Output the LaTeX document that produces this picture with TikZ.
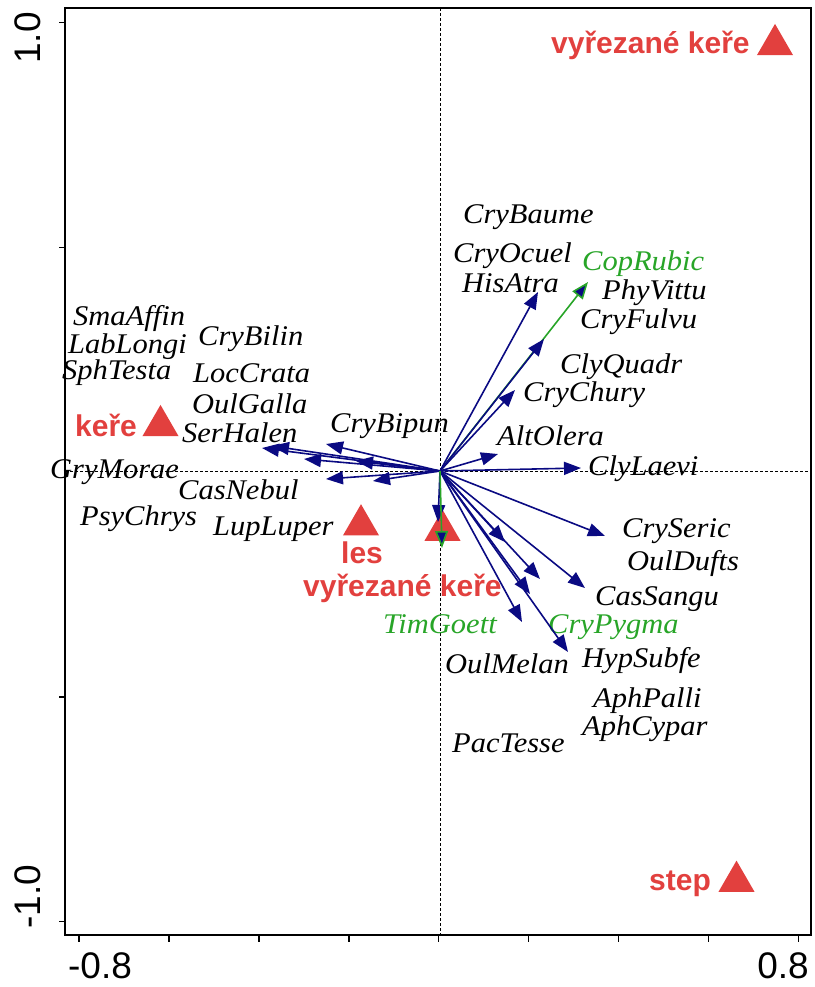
\documentclass[tikz,border=0pt]{standalone}
\usepackage{fontspec}
\setmainfont{Liberation Sans}
\newfontfamily\spfont{Liberation Serif Italic}[FakeStretch=1.07]
\newfontfamily\redfont{Liberation Sans Bold}
\usetikzlibrary{arrows.meta,shapes.geometric}
\definecolor{navyc}{RGB}{10,10,130}
\definecolor{greenc}{RGB}{40,165,40}
\definecolor{redc}{RGB}{226,64,62}
\begin{document}
\begin{tikzpicture}[x=1pt,y=-1pt,
  sp/.style={font=\spfont\fontsize{28.5}{28.5}\selectfont, inner sep=0pt, anchor=base west, text=black},
  gsp/.style={sp, text=greenc},
  rl/.style={font=\redfont\fontsize{30}{30}\selectfont, inner sep=0pt, anchor=base west, text=redc},
  tri/.style={regular polygon, regular polygon sides=3, fill=redc, inner sep=0pt, minimum size=41.6pt},
  vec/.style={navyc, line width=1.6pt, -{Triangle[length=17pt,width=13pt]}},
  gvec/.style={greenc, line width=1.6pt, -{Triangle[length=17pt,width=13pt,fill=navyc]}},
  axl/.style={font=\fontsize{37}{37}\selectfont, inner sep=0pt},
  dsh/.style={line width=0.8pt, dash pattern=on 3pt off 2pt}
]
\useasboundingbox (0,0) rectangle (814,987);
% dashed zero lines
\draw[dsh] (440,8) -- (440,935);
\draw[dsh] (65,471) -- (811,471);
% frame
\draw[line width=1.8pt] (65,8) rectangle (811,935);
\foreach \yy in {22.7,247.4,696.9,921.7} \draw[line width=1.5pt] (65,\yy) -- (59,\yy);
\foreach \k in {0,...,8} \draw[line width=1.5pt] (78.9+89.95*\k,935) -- (78.9+89.95*\k,942);
% axis labels
\node[axl, rotate=90] (ya) at (28,38) {1.0};
\node[axl, rotate=90] (yb) at (28,897) {-1.0};
\node[axl] (xa) at (100,966) {-0.8};
\node[axl] (xb) at (783,966) {0.8};
% triangles
\node[tri] (t1) at (775,44.7) {};
\node[tri] (t2) at (160.5,425.7) {};
\node[tri] (t3) at (361,525) {};
\node[tri] (t4) at (442.5,530.4) {};
\node[tri] (t5) at (736.5,881.4) {};
% red labels
\node[rl] (r1) at (551,54) {vyřezané keře};
\node[rl] (r2) at (75,436) {keře};
\node[rl] (r3) at (341,563) {les};
\node[rl] (r4) at (303,596) {vyřezané keře};
\node[rl] (r5) at (649,890) {step};
% species labels
\node[sp] (CryBaume) at (463,223) {CryBaume};
\node[sp] (CryOcuel) at (453,262) {CryOcuel};
\node[gsp] (CopRubic) at (582,270) {CopRubic};
\node[sp] (HisAtra) at (462,292) {HisAtra};
\node[sp] (PhyVittu) at (602,299) {PhyVittu};
\node[sp] (CryFulvu) at (580,328) {CryFulvu};
\node[sp] (ClyQuadr) at (560,373) {ClyQuadr};
\node[sp] (CryChury) at (523,401) {CryChury};
\node[sp] (AltOlera) at (497,445) {AltOlera};
\node[sp] (ClyLaevi) at (588,475) {ClyLaevi};
\node[sp] (CrySeric) at (622,537) {CrySeric};
\node[sp] (OulDufts) at (627,570) {OulDufts};
\node[sp] (CasSangu) at (595,605) {CasSangu};
\node[gsp] (CryPygma) at (548,633) {CryPygma};
\node[gsp] (TimGoett) at (383,633) {TimGoett};
\node[sp] (HypSubfe) at (582,667) {HypSubfe};
\node[sp] (OulMelan) at (445,673) {OulMelan};
\node[sp] (AphPalli) at (593,707) {AphPalli};
\node[sp] (AphCypar) at (582,735) {AphCypar};
\node[sp] (PacTesse) at (452,752) {PacTesse};
\node[sp] (SmaAffin) at (73,325) {SmaAffin};
\node[sp] (LabLongi) at (68,353) {LabLongi};
\node[sp] (SphTesta) at (62,379) {SphTesta};
\node[sp] (CryBilin) at (198,345) {CryBilin};
\node[sp] (LocCrata) at (193,382) {LocCrata};
\node[sp] (OulGalla) at (192,413) {OulGalla};
\node[sp] (SerHalen) at (182,442) {SerHalen};
\node[sp] (CryBipun) at (330,432) {CryBipun};
\node[sp] (GryMorae) at (50,478) {GryMorae};
\node[sp] (CasNebul) at (178,499) {CasNebul};
\node[sp] (PsyChrys) at (80,525) {PsyChrys};
\node[sp] (LupLuper) at (213,535) {LupLuper};
% arrows
\coordinate (o) at (440,471);
\coordinate (a1) at (538,292);
\coordinate (a3) at (544,339);
\coordinate (a4) at (515,390);
\coordinate (a5) at (498,454);
\coordinate (a6) at (581,468);
\coordinate (a7) at (605,536);
\coordinate (a8) at (505,542);
\coordinate (a9) at (540,579);
\coordinate (a10) at (585,588);
\coordinate (a11) at (530,594);
\coordinate (a12) at (522,622);
\coordinate (a13) at (568,652);
\coordinate (a14) at (438,522);
\coordinate (l1) at (262,448);
\coordinate (l2) at (272,446);
\coordinate (l3) at (326,444);
\coordinate (l4) at (304,459);
\coordinate (l5) at (356,461);
\coordinate (l6) at (326,479);
\coordinate (l7) at (373,481);
\coordinate (g1) at (588,282);
\coordinate (g2) at (442,548);
\draw[gvec] (o) -- (g1);
\foreach \t in {a1,a3,a4,a5,a6,a7,a8,a9,a10,a11,a12,a13,a14,l1,l2,l3,l4,l5,l6,l7}
  \draw[vec] (o) -- (\t);
\draw[gvec] (o) -- (g2);
\end{tikzpicture}
\end{document}
